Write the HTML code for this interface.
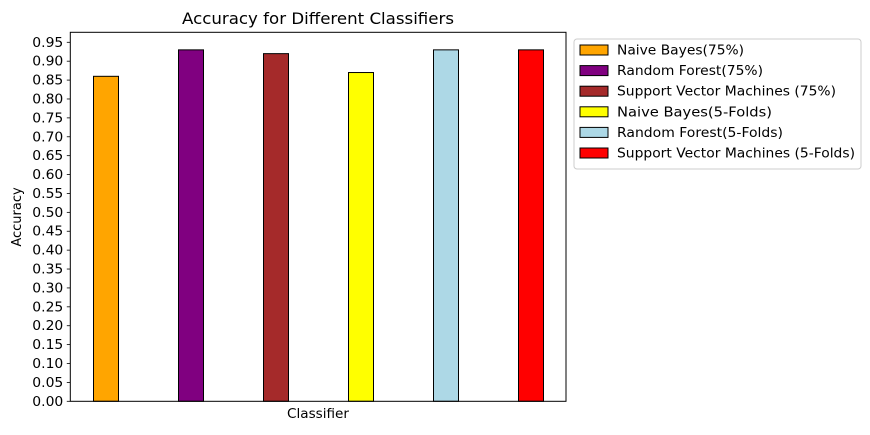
<!DOCTYPE html>
<html><head><meta charset="utf-8"><style>
body{margin:0;background:#fff;font-family:"DejaVu Sans","Liberation Sans",sans-serif;}
svg text{font-family:"DejaVu Sans","Liberation Sans",sans-serif;}
</style></head><body>
<svg id="chart" width="870" height="431"></svg>
<script>
const categories=["Naive Bayes(75%)","Random Forest(75%)","Support Vector Machines (75%)","Naive Bayes(5-Folds)","Random Forest(5-Folds)","Support Vector Machines (5-Folds)"];
const values=[0.86,0.93,0.92,0.87,0.93,0.93];
const colors=["orange","purple","brown","yellow","lightblue","red"];
const yTicks=[0,0.05,0.1,0.15,0.2,0.25,0.3,0.35,0.4,0.45,0.5,0.55,0.6,0.65,0.7,0.75,0.8,0.85,0.9,0.95];
const NS="http://www.w3.org/2000/svg";
const svg=document.getElementById('chart');
const L=70.3,R=566,T=32.3,B=401.3;
const y=v=>B-v*(359/0.95);
const x=i=>106+i*85;
function mk(tag,attrs,parent){const e=document.createElementNS(NS,tag);for(const k in attrs)e.setAttribute(k,attrs[k]);(parent||svg).appendChild(e);return e;}
values.forEach((v,i)=>{
 const r=mk('rect',{x:x(i)-12.5,y:y(v),width:25,height:B-y(v),fill:colors[i],stroke:'#000','stroke-width':1});
 
 
});
const f=mk('rect',{x:L,y:T,width:R-L,height:B-T,fill:'none',stroke:'#000','stroke-width':1});


yTicks.forEach(t=>{
 const yy=y(t);
 const ln=mk('line',{x1:L-3.5,x2:L,y1:yy,y2:yy,stroke:'#000','stroke-width':0.8});
 
 
 const tx=mk('text',{x:L-7,y:yy+4.5,'font-size':13,'text-anchor':'end',textLength:31,lengthAdjust:'spacingAndGlyphs'});
 tx.textContent=t.toFixed(2);
 
 
});
let t1=mk('text',{x:182,y:24,'font-size':16,textLength:272,lengthAdjust:'spacingAndGlyphs'});t1.textContent='Accuracy for Different Classifiers';


let t2=mk('text',{x:287,y:418,'font-size':13,textLength:62,lengthAdjust:'spacingAndGlyphs'});t2.textContent='Classifier';


let t3=mk('text',{x:0,y:0,'font-size':13,'text-anchor':'middle',transform:'translate(21,217) rotate(-90)'});t3.textContent='Accuracy';


const lg=mk('rect',{x:574,y:39,width:287,height:130,rx:3,fill:'#fff',stroke:'#ccc','stroke-width':1});


const lens=[127,146,219,155,166,238];
categories.forEach((c,i)=>{
 const yy=50+i*20.6;
 const s=mk('rect',{x:580,y:yy-5,width:28,height:10,fill:colors[i],stroke:'#000','stroke-width':1});
 
 
 const tx=mk('text',{x:617,y:yy+4.5,'font-size':13,textLength:lens[i],lengthAdjust:'spacingAndGlyphs'});
 tx.textContent=c;
 
 
});
</script>
</body></html>
